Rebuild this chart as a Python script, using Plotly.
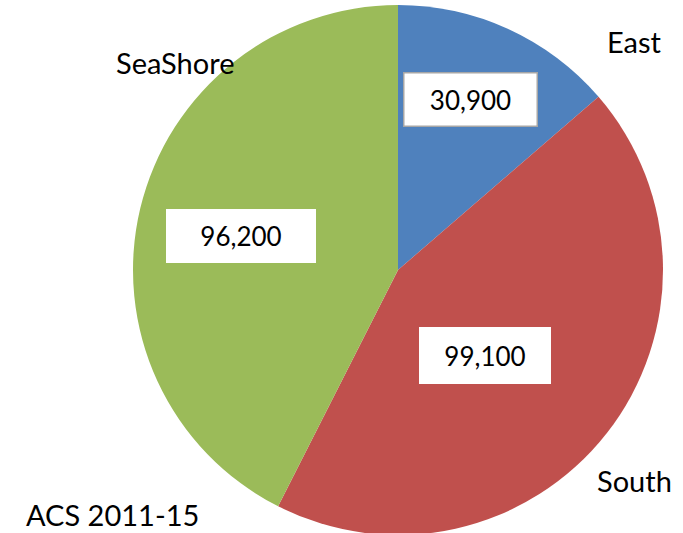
import plotly.graph_objects as go

categories = ["East", "South", "SeaShore"]
values = [30900, 99100, 96200]
colors = ["#4F81BD", "#C0504D", "#9BBB59"]
note = "ACS 2011-15"

W, H = 683, 540
FONT = "Lato"

fig = go.Figure(go.Pie(
    labels=categories,
    values=values,
    sort=False,
    direction="clockwise",
    rotation=0,
    marker=dict(colors=colors, line=dict(width=0)),
    textinfo="none",
    hoverinfo="label+value",
    showlegend=False,
    domain=dict(x=[133 / W, 663 / W], y=[5 / H, 535 / H]),
))

# label layout (pixel positions of label boxes)
box_pos = [(470, 100, 130, 50, True), (485, 355, 130, 55, False), (241, 236, 148, 52, False)]
cat_pos = [(634, 42), (634, 480), (175, 62)]

annotations = []
for cat, val, (bx, by, bw, bh, border), (cx, cy) in zip(categories, values, box_pos, cat_pos):
    annotations.append(dict(
        x=bx / W, y=1 - by / H, xref="paper", yref="paper",
        text=f"{val:,}", showarrow=False,
        font=dict(family=FONT, size=26, color="black"),
        bgcolor="white", bordercolor="#A6A6A6" if border else "white",
        borderwidth=1.5 if border else 0,
        width=bw, height=bh, align="center", valign="middle",
        xanchor="center", yanchor="middle",
    ))
    annotations.append(dict(
        x=cx / W, y=1 - cy / H, xref="paper", yref="paper",
        text=cat, showarrow=False,
        font=dict(family=FONT, size=29, color="black"),
        xanchor="center", yanchor="middle",
    ))

annotations.append(dict(
    x=112 / W, y=1 - 514 / H, xref="paper", yref="paper",
    text=note, showarrow=False,
    font=dict(family=FONT, size=29, color="black"),
    xanchor="center", yanchor="middle",
))

fig.update_layout(
    width=W, height=H,
    margin=dict(l=0, r=0, t=0, b=0),
    paper_bgcolor="white", plot_bgcolor="white",
    annotations=annotations,
)

fig.write_html(
    "out.html",
    config={"displayModeBar": False},
    post_script="document.body.style.margin='0';document.body.style.overflow='hidden';document.documentElement.style.overflow='hidden';",
)
